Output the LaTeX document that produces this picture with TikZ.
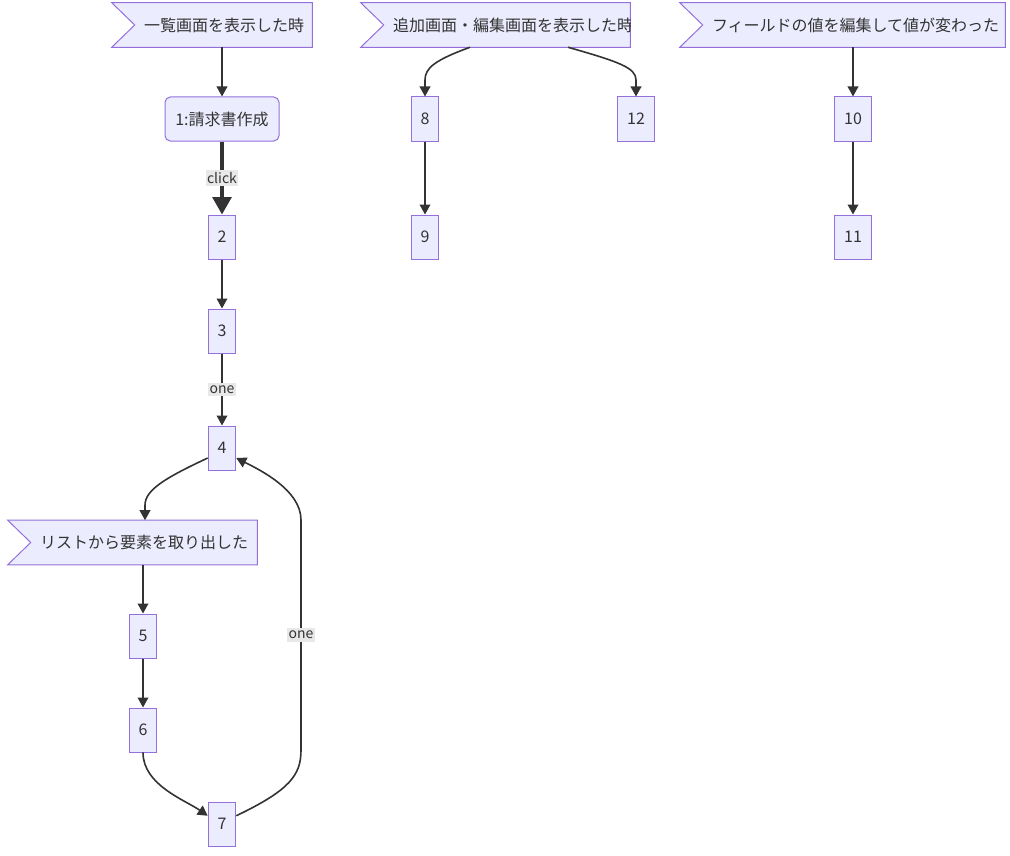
\documentclass[tikz,border=0pt]{standalone}
\usepackage{fontspec}
\setmainfont{Noto Sans CJK JP}
\usetikzlibrary{arrows.meta,calc}
\definecolor{nodefill}{HTML}{ECECFF}
\definecolor{nodeline}{HTML}{9370DB}
\definecolor{edgeline}{HTML}{333333}
\definecolor{lblfill}{HTML}{E8E8E8}
\tikzset{
  fc/.style={x=0.75pt, y=-0.75pt, >={Triangle[length=7.5pt,width=8pt]},
             every node/.style={font=\fontsize{12}{14}\selectfont, text=edgeline}},
  box/.style={draw=nodeline, fill=nodefill, line width=0.75pt, minimum height=33pt, inner xsep=7pt, inner ysep=0pt},
  startbox/.style={box, rounded corners=4pt, minimum width=85.5pt},
  evbox/.style={minimum height=33pt, inner sep=0pt},
  evline/.style={draw=nodeline, fill=nodefill, line width=0.75pt},
  flow/.style={->, draw=edgeline, line width=1.2pt},
  boldflow/.style={flow, line width=2.6pt, >={Triangle[length=13pt,width=14pt]}},
  lbl/.style={fill=lblfill, inner xsep=1pt, inner ysep=2pt, font=\fontsize{10.5}{12}\selectfont}
}
% event flag: name, centre, width (px), text
\newcommand{\evflag}[4]{%
  \node[evbox, minimum width=#3*0.75pt] (#1) at (#2) {};
  \draw[evline] (#1.north west) -- (#1.north east) -- (#1.south east) -- (#1.south west) -- ($(#1.west)+(23,0)$) -- cycle;
  \begin{scope}
    \clip (#1.north west) rectangle (#1.south east);
    \node[anchor=west, inner sep=0pt] (#1t) at ($(#1.west)+(32,0)$) {#4};
  \end{scope}}

\begin{document}
\begin{tikzpicture}[fc]
\useasboundingbox (0,0) rectangle (1010,856);
\evflag{evA}{212,25}{200}{一覧画面を表示した時}
\evflag{evB}{495.5,25}{269}{追加画面・編集画面を表示した時}
\evflag{evC}{842.5,25}{325}{フィールドの値を編集して値が変わった}
\evflag{evD}{132.5,542.5}{249}{リストから要素を取り出した}
\node[startbox] (n1) at (222,119) {1:請求書作成};
\node[box] (n2) at (222,237) {2};
\node[box] (n3) at (222,331) {3};
\node[box] (n4) at (222,448) {4};
\node[box] (n5) at (143,636) {5};
\node[box] (n6) at (143,730) {6};
\node[box] (n7) at (222,824) {7};
\node[box] (n8) at (425,119) {8};
\node[box] (n9) at (425,237) {9};
\node[box] (n12) at (636,119) {12};
\node[box] (n10) at (853,119) {10};
\node[box] (n11) at (853,237) {11};
% connectors
\draw[flow] (n1 |- evA.south) -- (n1);
\draw[boldflow] (n1) -- node[lbl] {click} (n2);
\draw[flow] (n2) -- (n3);
\draw[flow] (n3) -- node[lbl] {one} (n4);
\draw[flow] (n4.215) .. controls (165,478) and (145,490) .. ($(evD.north)+(12.5,-15)$) -- ($(evD.north)+(12.5,0)$);
\draw[flow] (n5 |- evD.south) -- (n5);
\draw[flow] (n5) -- (n6);
\draw[flow] (n6.south) .. controls (143,785) and (185,800) .. (n7.150);
\draw[flow] (n7.30) .. controls (290,790) and (301,775) .. (301,750) -- node[lbl] {one} (301,520)
  .. controls (301,490) and (260,470) .. (n4.325);
\draw[flow] ($(evB.south)+(-25.5,0)$) .. controls (435,60) and (425,68) .. (425,80) -- (n8.north);
\draw[flow] ($(evB.south)+(72.5,0)$) .. controls (620,62) and (636,68) .. (636,80) -- (n12.north);
\draw[flow] (n8) -- (n9);
\draw[flow] (n10 |- evC.south) -- (n10);
\draw[flow] (n10) -- (n11);
\end{tikzpicture}
\end{document}
